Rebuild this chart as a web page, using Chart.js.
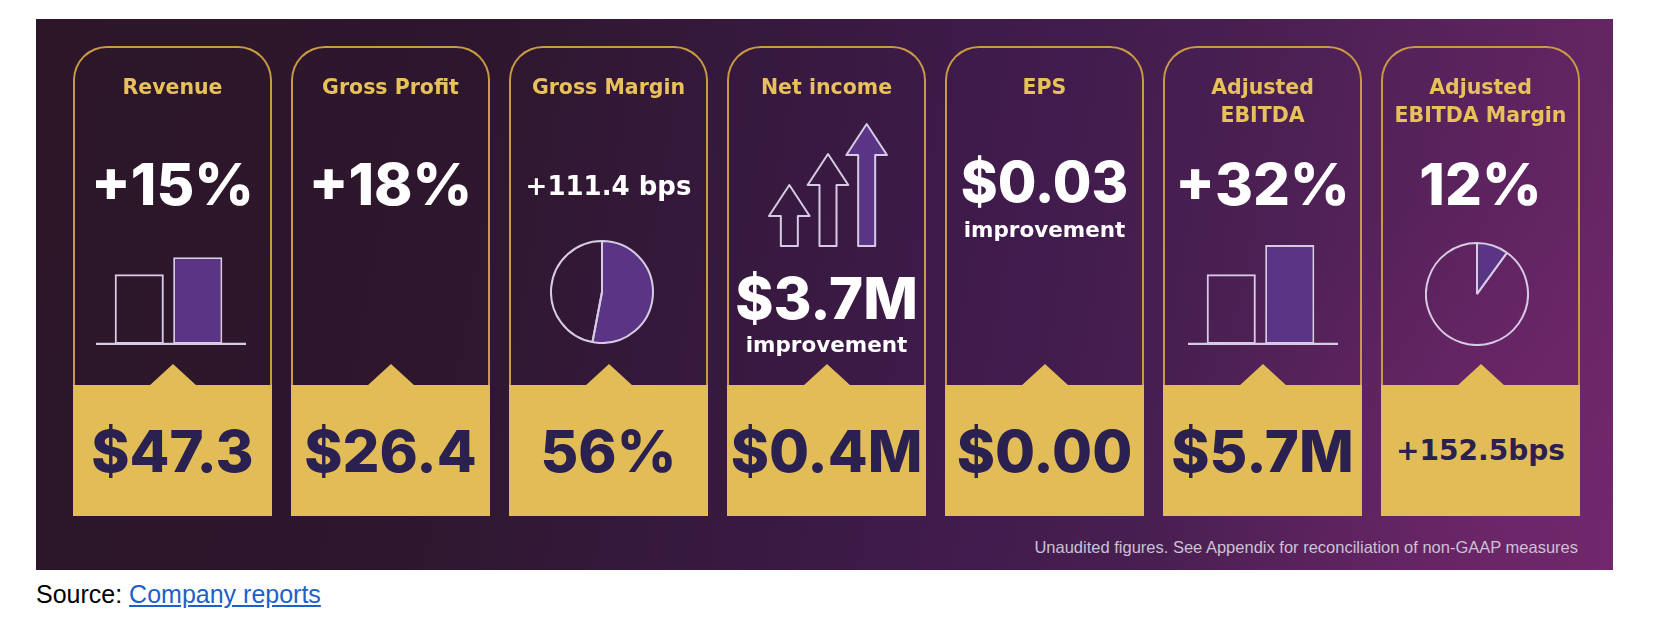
<!DOCTYPE html>
<html>
<head>
<meta charset="utf-8">
<script src="https://cdn.jsdelivr.net/npm/chart.js@4.4.1/dist/chart.umd.min.js"></script>
<style>
    html, body { margin: 0; padding: 0; background: #fff; }
    body { width: 1654px; height: 626px; position: relative; overflow: hidden; }
    #banner {
        position: absolute; left: 36px; top: 19px; width: 1577px; height: 551px; overflow: hidden;
        background:
            radial-gradient(ellipse 520px 420px at 1480px 470px, rgba(130, 40, 120, 0.35), rgba(130, 40, 120, 0) 70%),
            linear-gradient(100deg, #2c1628 0%, #2e172e 28%, #37193f 45%, #401b4c 60%, #4b2053 75%, #5f2460 90%, #6c2768 100%);
    }
    .card { position: absolute; top: 27px; width: 199px; height: 470px; }
    .outline {
        position: absolute; left: 0; top: 0; width: 199px; height: 341px; box-sizing: border-box;
        border: 2px solid #c99a45; border-bottom: none; border-radius: 34px 34px 0 0;
    }
    .value-box {
        position: absolute; left: 0; top: 339px; width: 199px; height: 131px; background: #e2bc57;
        display: flex; align-items: center; justify-content: center;
        font-family: Inter, "Noto Sans", sans-serif; font-weight: 800; font-size: 58px; color: #2b2150;
        white-space: nowrap;
    }
    .notch {
        position: absolute; top: 318px; left: 76px; width: 48px; height: 22px; background: #e2bc57;
        clip-path: polygon(0 100%, 50% 0, 100% 100%);
    }
    .t { position: absolute; left: -10px; width: 219px; text-align: center; white-space: nowrap; }
    canvas { position: absolute; }
    #note {
        position: absolute; right: 35px; top: 519px; font-family: "Liberation Sans", Arial, sans-serif;
        font-size: 16.5px; line-height: 18px; color: #cbc2d3;
    }
    #source {
        position: absolute; left: 36px; top: 580px; font-family: "Liberation Sans", Arial, sans-serif;
        font-size: 25px; line-height: 28px; color: #000;
    }
    #source a { color: #1f5fc9; text-decoration: underline; }
</style>
</head>
<body>
<div id="banner">
    <canvas id="revenueChart" width="150" height="102" style="left:60px;top:224px"></canvas>
    <canvas id="grossMarginChart" width="104" height="104" style="left:514px;top:221px"></canvas>
    <canvas id="netIncomeChart" width="126" height="126" style="left:729px;top:103px"></canvas>
    <canvas id="ebitdaChart" width="150" height="102" style="left:1152px;top:224px"></canvas>
    <canvas id="ebitdaMarginChart" width="104" height="104" style="left:1389px;top:223px"></canvas>
    <div id="note">Unaudited figures. See Appendix for reconciliation of non-GAAP measures</div>
</div>
<div id="source">Source: <a href="#">Company reports</a></div>

<script>
// Card texts
const cardTitles = [['Revenue'], ['Gross Profit'], ['Gross Margin'], ['Net income'], ['EPS'], ['Adjusted', 'EBITDA'], ['Adjusted', 'EBITDA Margin']]
const headlines = ['+15%', '+18%', '+111.4 bps', '', '$0.03', '+32%', '12%']
const footerValues = ['$47.3', '$26.4', '56%', '$0.4M', '$0.00', '$5.7M', '+152.5bps']

// Icon data
const barLabels = ['Prior', 'Current']
const revenueBars = [69, 86]
const ebitdaBars = [69, 98]
const pieLabels = ['Margin', 'Rest']
const grossMarginSlices = [53, 47]
const ebitdaMarginSlices = [10, 90]
const arrowLabels = ['1', '2', '3']
const netIncomeArrows = [61, 92, 122]

const lineColor = '#d6cbe3'
const fillColor = '#5b3585'
const clear = 'rgba(0, 0, 0, 0)'

// Build the cards
const banner = document.getElementById('banner')
const bigFont = 'Inter, "Noto Sans", sans-serif'
const smallFont = '"DejaVu Sans", Verdana, sans-serif'

function addText(card, text, cy, size, family, color, weight) {
    const el = document.createElement('div')
    el.className = 't'
    el.textContent = text
    el.style.top = (cy - size / 2) + 'px'
    el.style.fontSize = size + 'px'
    el.style.lineHeight = size + 'px'
    el.style.fontFamily = family
    el.style.fontWeight = weight
    el.style.color = color
    card.appendChild(el)
}

cardTitles.forEach((title, i) => {
    const card = document.createElement('div')
    card.className = 'card'
    card.style.left = (37 + 218 * i) + 'px'
    card.innerHTML = '<div class="outline"></div><div class="notch"></div><div class="value-box"></div>'
    const box = card.querySelector('.value-box')
    box.textContent = footerValues[i]
    if (footerValues[i].includes('bps')) {
        box.style.fontFamily = smallFont
        box.style.fontWeight = 700
        box.style.fontSize = '28px'
    }

    title.forEach((line, j) => addText(card, line, 41 + 28 * j, 20.5, smallFont, '#e8c15b', 700))

    const head = headlines[i]
    if (head.includes('bps')) {
        addText(card, head, 140, 26, smallFont, '#fff', 700)
    } else if (head) {
        addText(card, head, i === 4 ? 136 : 138, i === 4 ? 56 : 58, bigFont, '#fff', 800)
    }
    if (i === 3) {
        addText(card, '$3.7M', 252, 58, bigFont, '#fff', 800)
        addText(card, 'improvement', 299, 21.5, smallFont, '#fff', 700)
    }
    if (i === 4) {
        addText(card, 'improvement', 184, 21.5, smallFont, '#fff', 700)
    }
    banner.appendChild(card)
})

// Chart helpers
const baseOptions = {
    responsive: false,
    animation: false,
    events: [],
    plugins: { legend: { display: false }, tooltip: { enabled: false } }
}

const baselinePlugin = {
    id: 'baseline',
    afterDatasetsDraw(chart) {
        const ctx = chart.ctx
        const y = chart.scales.y.getPixelForValue(0)
        ctx.save()
        ctx.strokeStyle = lineColor
        ctx.lineWidth = 2.5
        ctx.beginPath()
        ctx.moveTo(0, y)
        ctx.lineTo(chart.width, y)
        ctx.stroke()
        ctx.restore()
    }
}

function barIcon(id, values) {
    new Chart(document.getElementById(id), {
        type: 'bar',
        data: {
            labels: barLabels,
            datasets: [{
                data: values,
                backgroundColor: [clear, fillColor],
                borderColor: lineColor,
                borderWidth: 2,
                borderSkipped: false,
                barPercentage: 0.84,
                categoryPercentage: 1
            }]
        },
        options: {
            ...baseOptions,
            layout: { padding: { left: 14, right: 19, top: 0, bottom: 1 } },
            scales: {
                x: { display: false },
                y: { display: false, min: 0, max: 100 }
            }
        },
        plugins: [baselinePlugin]
    })
}

function pieIcon(id, values) {
    new Chart(document.getElementById(id), {
        type: 'pie',
        data: {
            labels: pieLabels,
            datasets: [{
                data: values,
                backgroundColor: [fillColor, clear],
                borderColor: lineColor,
                borderWidth: 2
            }]
        },
        options: { ...baseOptions }
    })
}

// Draw each bar of the net income chart as an up arrow
const arrowPlugin = {
    id: 'arrows',
    afterDatasetsDraw(chart) {
        const ctx = chart.ctx
        chart.getDatasetMeta(0).data.forEach((bar, i) => {
            const hw = bar.width / 2 + 1
            const sw = bar.width * 0.22
            const hh = 31
            ctx.save()
            ctx.beginPath()
            ctx.moveTo(bar.x, bar.y)
            ctx.lineTo(bar.x + hw, bar.y + hh)
            ctx.lineTo(bar.x + sw, bar.y + hh)
            ctx.lineTo(bar.x + sw, bar.base)
            ctx.lineTo(bar.x - sw, bar.base)
            ctx.lineTo(bar.x - sw, bar.y + hh)
            ctx.lineTo(bar.x - hw, bar.y + hh)
            ctx.closePath()
            ctx.fillStyle = i === netIncomeArrows.length - 1 ? fillColor : clear
            ctx.fill()
            ctx.lineJoin = 'round'
            ctx.lineWidth = 2
            ctx.strokeStyle = lineColor
            ctx.stroke()
            ctx.restore()
        })
    }
}

barIcon('revenueChart', revenueBars)
barIcon('ebitdaChart', ebitdaBars)
pieIcon('grossMarginChart', grossMarginSlices)
pieIcon('ebitdaMarginChart', ebitdaMarginSlices)

new Chart(document.getElementById('netIncomeChart'), {
    type: 'bar',
    data: {
        labels: arrowLabels,
        datasets: [{
            data: netIncomeArrows,
            backgroundColor: clear,
            borderWidth: 0,
            barPercentage: 1,
            categoryPercentage: 1
        }]
    },
    options: {
        ...baseOptions,
        layout: { padding: { left: 5, right: 5, top: 0, bottom: 2 } },
        scales: {
            x: { display: false },
            y: { display: false, min: 0, max: 124 }
        }
    },
    plugins: [arrowPlugin]
})
</script>
</body>
</html>
